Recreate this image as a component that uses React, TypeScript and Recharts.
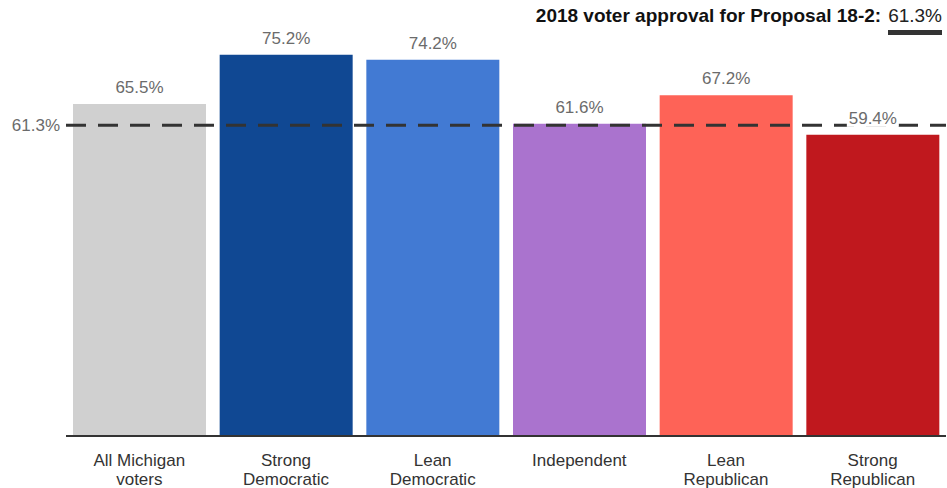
import { BarChart, Bar, XAxis, YAxis, Cell, ReferenceLine, LabelList } from "recharts"

const categories = ["All Michigan\nvoters", "Strong\nDemocratic", "Lean\nDemocratic", "Independent", "Lean\nRepublican", "Strong\nRepublican"]
const approval = [65.5, 75.2, 74.2, 61.6, 67.2, 59.4]
const barColors = ["#d0d0d0", "#104893", "#427ad3", "#aa73ce", "#fe6357", "#c0181e"]
const statewide = 61.3

const data = categories.map((name, i) => ({ name, value: approval[i] }))

const font = "'Liberation Sans', Arial, sans-serif"

function CategoryTick({ x, y, payload }: any) {
  const lines = String(payload.value).split("\n")
  return (
    <text x={x} y={y + 22} textAnchor="middle" fill="#333" fontSize={17} fontFamily={font}>
      {lines.map((l, i) => (
        <tspan key={i} x={x} dy={i === 0 ? 0 : 19}>
          {l}
        </tspan>
      ))}
    </text>
  )
}

function ValueLabel({ x, y, width, value }: any) {
  const cx = x + width / 2
  return (
    <g>
      <rect x={cx - 26} y={y - 28} width={52} height={20} fill="#fff" />
      <text x={cx} y={y - 11} textAnchor="middle" fill="#6b6b6b" fontSize={17} fontFamily={font}>
        {`${value}%`}
      </text>
    </g>
  )
}

export default function App() {
  return (
    <div style={{ position: "absolute", left: 0, top: 0, width: 947, height: 488, background: "#fff", fontFamily: font }}>
      <BarChart
        width={947}
        height={488}
        data={data}
        margin={{ top: 0, right: 1, bottom: 0, left: 66 }}
        barCategoryGap={7}
      >
        <XAxis
          dataKey="name"
          height={52}
          tickLine={false}
          axisLine={{ stroke: "#333", strokeWidth: 2 }}
          tick={<CategoryTick />}
          interval={0}
        />
        <YAxis hide domain={[0, 86]} />
        <ReferenceLine
          y={statewide}
          stroke="#333"
          strokeWidth={3}
          strokeDasharray="20 12"
          label={{ value: "61.3%", position: "left", fill: "#6b6b6b", fontSize: 17, fontFamily: font, offset: 6 }}
        />
        <Bar dataKey="value" isAnimationActive={false}>
          {data.map((d, i) => (
            <Cell key={d.name} fill={barColors[i]} />
          ))}
          <LabelList dataKey="value" content={<ValueLabel />} />
        </Bar>
      </BarChart>
      <div
        style={{
          position: "absolute",
          right: 5,
          top: 5,
          fontSize: 19,
          fontWeight: "bold",
          color: "#111",
          whiteSpace: "nowrap",
          display: "flex",
          alignItems: "flex-start",
        }}
      >
        <span>2018 voter approval for Proposal 18-2:</span>
        <span style={{ marginLeft: 7, display: "inline-block", textAlign: "center", color: "#222" }}>
          <span style={{ fontWeight: "normal" }}>61.3%</span>
          <div style={{ height: 5, background: "#333", marginTop: 3 }} />
        </span>
      </div>
    </div>
  )
}
